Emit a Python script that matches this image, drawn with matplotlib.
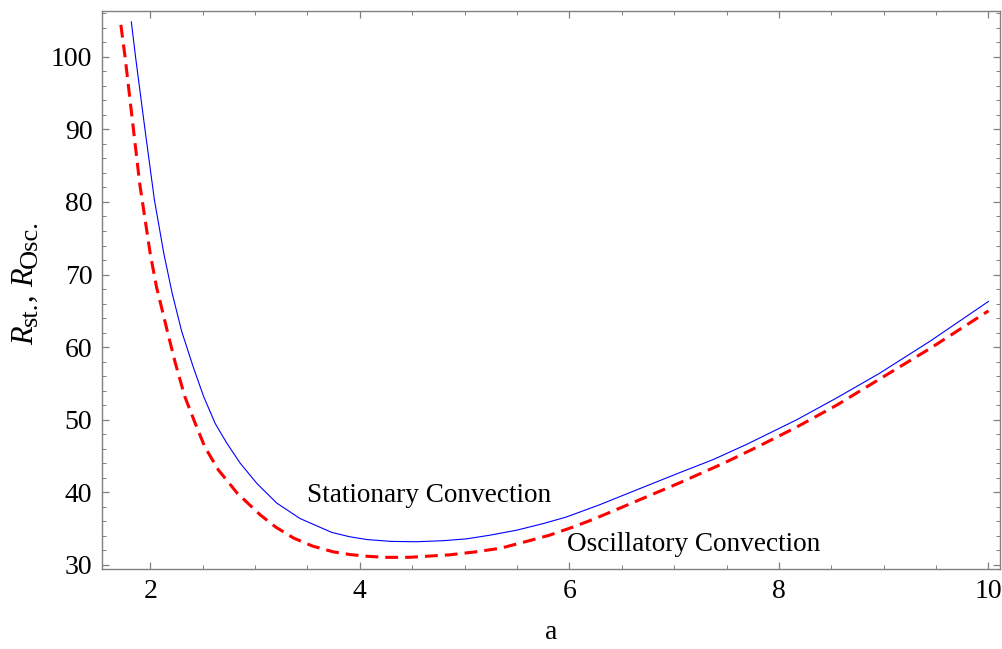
import matplotlib
matplotlib.use("Agg")
import matplotlib.pyplot as plt
from matplotlib.ticker import MultipleLocator
from matplotlib.transforms import IdentityTransform

# values
a_stationary = [1.82, 1.86, 1.95, 2.04, 2.13, 2.21, 2.30, 2.41, 2.51, 2.62,
                2.73, 2.86, 3.02, 3.21, 3.43, 3.73, 3.90, 4.07, 4.30, 4.54,
                4.80, 5.02, 5.24, 5.50, 5.75, 5.97, 6.29, 6.60, 7.05, 7.37,
                7.69, 8.17, 8.55, 8.96, 9.44, 10.0]
R_stationary = [104.8, 100.0, 90.0, 80.3, 72.9, 67.4, 62.2, 57.3, 53.2, 49.5,
                46.8, 44.0, 41.2, 38.5, 36.4, 34.5, 33.9, 33.5, 33.25, 33.2,
                33.35, 33.6, 34.1, 34.8, 35.7, 36.6, 38.3, 40.1, 42.7, 44.5,
                46.6, 50.0, 53.0, 56.4, 60.8, 66.3]

a_oscillatory = [1.72, 1.76, 1.84, 1.90, 2.00, 2.06, 2.13, 2.16, 2.24, 2.33,
                 2.43, 2.52, 2.65, 2.83, 3.05, 3.20, 3.37, 3.55, 3.75, 3.90,
                 4.07, 4.25, 4.48, 4.86, 5.10, 5.34, 5.58, 5.81, 6.03, 6.23,
                 6.51, 7.05, 7.47, 7.80, 8.17, 8.55, 8.96, 9.44, 10.0]
R_oscillatory = [104.4, 100.0, 90.0, 82.5, 72.9, 68.3, 64.2, 62.4, 57.8, 53.2,
                 49.5, 46.3, 43.1, 39.9, 36.9, 35.2, 33.7, 32.6, 31.8, 31.45,
                 31.2, 31.05, 31.06, 31.4, 31.8, 32.3, 33.2, 34.1, 35.2, 36.3,
                 38.0, 41.3, 44.0, 46.3, 49.0, 52.0, 55.6, 59.8, 65.0]

x_label = "a"
# y label pieces: R_st., R_Osc. (subscripts drawn a little smaller and lower)
y_label_parts = [("R", "italic", 22, 0), ("st.", "normal", 19, 4),
                 (", ", "normal", 22, 0), ("R", "italic", 22, 0),
                 ("Osc.", "normal", 19, 4)]

plt.rcParams["font.family"] = "Liberation Serif"

fig = plt.figure(figsize=(10.02, 6.49), dpi=100)
ax = fig.add_axes([0.1018, 0.1233, 0.8962, 0.8597])

ax.plot(a_stationary, R_stationary, color="blue", lw=0.8)
ax.plot(a_oscillatory, R_oscillatory, color="red", lw=2.2, dashes=(4.2, 2.3))

ax.text(3.5, 39.6, "Stationary Convection", fontsize=19.6, va="center", ha="left")
ax.text(5.98, 32.8, "Oscillatory Convection", fontsize=19.6, va="center", ha="left")

ax.set_xlim(1.54, 10.11)
ax.set_ylim(29.45, 106.3)
ax.xaxis.set_major_locator(MultipleLocator(2))
ax.xaxis.set_minor_locator(MultipleLocator(0.5))
ax.yaxis.set_major_locator(MultipleLocator(10))
ax.yaxis.set_minor_locator(MultipleLocator(2))

frame = "#808080"
for s in ax.spines.values():
    s.set_color(frame)
    s.set_linewidth(1.0)
ax.tick_params(which="both", direction="in", top=True, right=True,
               color=frame, labelsize=20)
ax.tick_params(which="major", length=5, width=0.9, pad=7)
ax.tick_params(which="minor", length=3, width=0.7)

ax.set_xlabel(x_label, fontsize=20, labelpad=12)

# rotated y label built piece by piece, going upwards from the baseline start
fig.canvas.draw()
renderer = fig.canvas.get_renderer()
base_x, y_pos = 33, 649 - 345
for txt, style, size, drop in y_label_parts:
    t = fig.text(base_x + drop, y_pos, txt, fontsize=size, style=style,
                 rotation=90, rotation_mode="anchor", ha="left", va="baseline",
                 transform=IdentityTransform())
    y_pos += t.get_window_extent(renderer).height

fig.savefig("out.png", dpi=100)
